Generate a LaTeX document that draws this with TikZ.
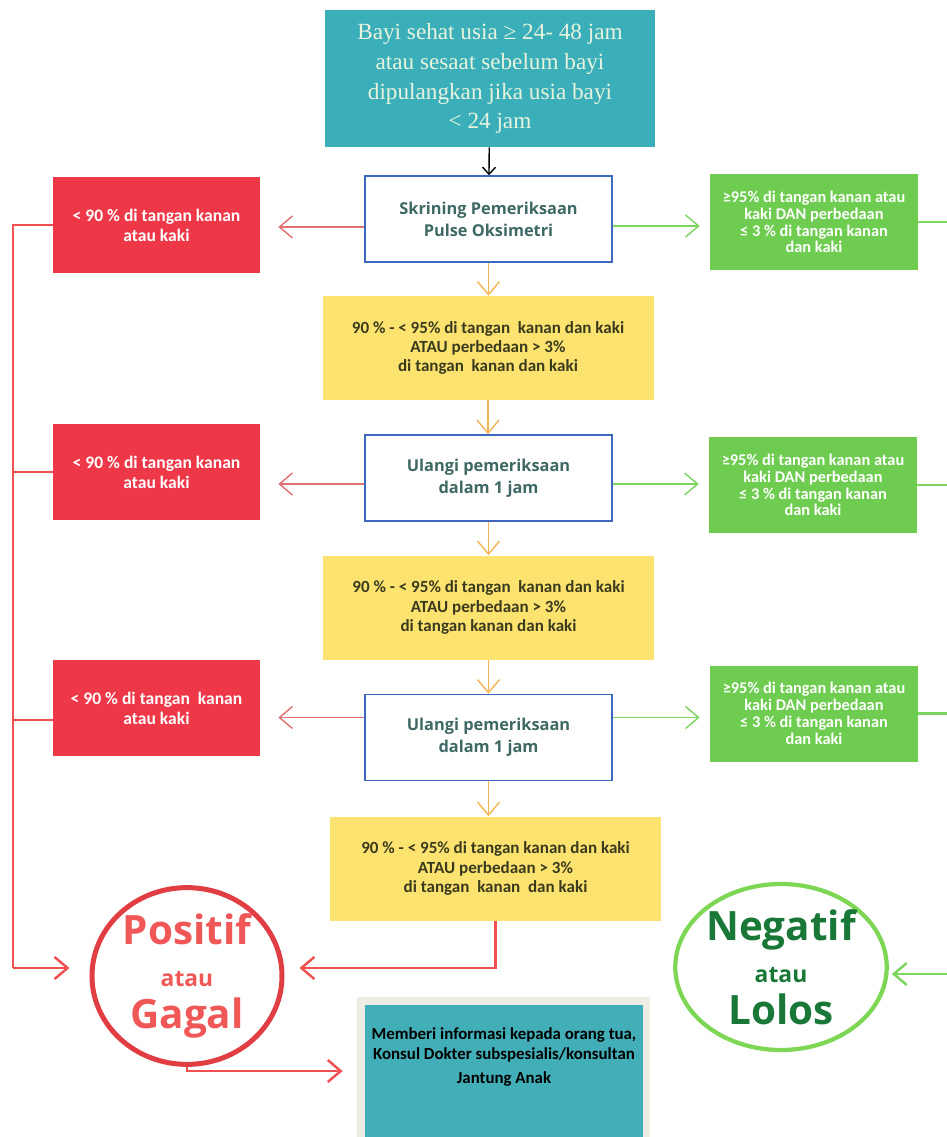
\documentclass[tikz,border=0pt]{standalone}
\usepackage{fontspec}
\setmainfont{Carlito}
\newfontfamily\serifface{Liberation Serif}
\newfontfamily\opensans{Open Sans}
\usepackage{tikz}
\usetikzlibrary{shapes.geometric,arrows.meta}
\definecolor{tealbox}{RGB}{58,175,185}
\definecolor{toptext}{RGB}{232,243,222}
\definecolor{checkblue}{RGB}{62,104,190}
\definecolor{checktext}{RGB}{62,104,100}
\definecolor{failred}{RGB}{238,56,72}
\definecolor{faillight}{RGB}{226,112,112}
\definecolor{railred}{RGB}{240,80,80}
\definecolor{passgreen}{RGB}{110,205,80}
\definecolor{passlight}{RGB}{125,212,95}
\definecolor{midyellow}{RGB}{252,226,110}
\definecolor{midtext}{RGB}{58,58,30}
\definecolor{midarrow}{RGB}{245,180,80}
\definecolor{gagalred}{RGB}{225,62,68}
\definecolor{gagaltext}{RGB}{240,88,88}
\definecolor{lolosgreen}{RGB}{125,215,85}
\definecolor{lolostext}{RGB}{25,120,55}
\definecolor{framebeige}{RGB}{238,236,228}
\definecolor{infoteal}{RGB}{66,174,184}

\begin{document}
\begin{tikzpicture}[x=0.2mm,y=-0.2mm,
  every node/.style={font=\bfseries\fontsize{10}{11.4}\selectfont,align=center,inner sep=0pt},
  topbox/.style={fill=tealbox,text=toptext,minimum width=66mm,minimum height=27.4mm,
    font=\serifface\fontsize{13.2}{17}\selectfont},
  checkbox/.style={draw=checkblue,line width=0.9pt,fill=white,text=checktext,
    minimum width=49.4mm,minimum height=17.2mm,font=\opensans\bfseries\fontsize{9.3}{12.5}\selectfont},
  failbox/.style={fill=failred,text=white,minimum width=41.4mm,minimum height=19.2mm},
  passbox/.style={fill=passgreen,text=white,minimum width=41.6mm,minimum height=19.2mm,
    font=\bfseries\fontsize{9.3}{9.6}\selectfont},
  midbox/.style={fill=midyellow,text=midtext,minimum width=66.2mm,minimum height=20.8mm,
    font=\bfseries\fontsize{9.7}{10.9}\selectfont},
  result/.style={ellipse,line width=1mm,font=\opensans\bfseries\fontsize{23}{24}\selectfont},
  infobox/.style={fill=infoteal,minimum width=55.6mm,minimum height=26.4mm},
  flowtip/.style={-{Straight Barb[length=2.6mm,width=4.4mm]}},
  blackflow/.style={-{Straight Barb[length=1.4mm,width=2.6mm]},line width=0.8pt},
  redflow/.style={flowtip,faillight,line width=0.8pt,shorten >=3.6mm},
  greenflow/.style={flowtip,passlight,line width=0.8pt,shorten >=2mm},
  yellowflow/.style={flowtip,midarrow,line width=0.8pt},
  redrail/.style={railred,line width=1.4pt},
  greenrail/.style={passlight,line width=1.4pt}]
\useasboundingbox (0,0) rectangle (947,1137);

% start and first screening
\node[topbox] (start) at (490,78.5) {Bayi sehat usia ≥ 24- 48 jam\\atau sesaat sebelum bayi\\dipulangkan jika usia bayi\\< 24 jam};
\node[checkbox] (screen) at (488.5,219) {Skrining Pemeriksaan\\Pulse Oksimetri};
\node[failbox] (fail1) at (156.5,225) {< 90 \% di tangan kanan\\atau kaki};
\node[passbox] (pass1) at (814,222) {≥95\% di tangan kanan atau\\kaki DAN perbedaan\\≤ 3 \% di tangan kanan\\dan kaki};
\node[midbox] (mid1) at (488,348) {90 \% - < 95\% di tangan\ \ kanan dan kaki\\ATAU perbedaan > 3\%\\di tangan\ \ kanan dan kaki};

% first repeat
\node[checkbox] (repeat1) at (488.5,478) {Ulangi pemeriksaan\\dalam 1 jam};
\node[failbox] (fail2) at (156.5,472) {< 90 \% di tangan kanan\\atau kaki};
\node[passbox] (pass2) at (813,485) {≥95\% di tangan kanan atau\\kaki DAN perbedaan\\≤ 3 \% di tangan kanan\\dan kaki};
\node[midbox] (mid2) at (488.5,607.5) {90 \% - < 95\% di tangan\ \ kanan dan kaki\\ATAU perbedaan > 3\%\\di tangan kanan dan kaki};

% second repeat
\node[checkbox] (repeat2) at (488.5,737.5) {Ulangi pemeriksaan\\dalam 1 jam};
\node[failbox] (fail3) at (156.5,708) {< 90 \% di tangan\ \ kanan\\atau kaki};
\node[passbox] (pass3) at (814,713.5) {≥95\% di tangan kanan atau\\kaki DAN perbedaan\\≤ 3 \% di tangan kanan\\dan kaki};
\node[midbox] (mid3) at (495.5,868.5) {90 \% - < 95\% di tangan kanan dan kaki\\ATAU perbedaan > 3\%\\di tangan\ \ kanan\ \ dan kaki};

% results
\node[result,draw=gagalred,text=gagaltext,minimum width=38mm,minimum height=32mm] (gagal) at (187,976)
  {Positif\\{\fontsize{13}{24}\selectfont atau}\\Gagal};
\node[result,draw=lolosgreen,text=lolostext,line width=0.85mm,minimum width=38.4mm,minimum height=33.2mm] (lolos) at (781,967)
  {Negatif\\{\fontsize{13}{24}\selectfont atau}\\Lolos};
\fill[framebeige] (357,997) rectangle (650,1137);
\node[infobox] (info) at (504,1071) {};
\node[text=black,font=\bfseries\fontsize{9.6}{11.4}\selectfont] (infotext) at (504,1057) {Memberi informasi kepada orang tua,\\Konsul Dokter subspesialis/konsultan\\[2pt]Jantung Anak};

\coordinate (railL) at (13,968);
\coordinate (railR) at (956,974);

% connectors
\draw[blackflow] (start) -- (screen);
\draw[yellowflow] (screen.south) -- (screen.south |- mid1.north);
\draw[yellowflow] (mid1.south) -- (mid1.south |- repeat1.north);
\draw[yellowflow] (repeat1.south) -- (repeat1.south |- mid2.north);
\draw[yellowflow] (mid2.south) -- (mid2.south |- repeat2.north);
\draw[yellowflow] (repeat2.south) -- (repeat2.south |- mid3.north);

\draw[redflow] ([yshift=-1.6mm]screen.west) -- ([yshift=-1.6mm]screen.west -| fail1.east);
\draw[redflow] ([yshift=-1.2mm]repeat1.west) -- ([yshift=-1.2mm]repeat1.west -| fail2.east);
\draw[redflow] ([yshift=4mm]repeat2.west) -- ([yshift=4mm]repeat2.west -| fail3.east);
\draw[greenflow] ([yshift=-1.4mm]screen.east) -- ([yshift=-1.4mm]screen.east -| pass1.west);
\draw[greenflow] ([yshift=-1.2mm]repeat1.east) -- ([yshift=-1.2mm]repeat1.east -| pass2.west);
\draw[greenflow] ([yshift=4mm]repeat2.east) -- ([yshift=4mm]repeat2.east -| pass3.west);

\draw[redrail] (fail1.west) -| (railL);
\draw[redrail] (fail2.west) -- (fail2.west -| railL);
\draw[redrail] ([yshift=-2.4mm]fail3.west) -- ([yshift=-2.4mm]fail3.west -| railL);
\draw[redrail,flowtip,shorten >=4mm] (railL) -- (railL -| gagal.west);
\draw[redrail,flowtip,shorten >=3mm] (mid3.south) |- (railL -| gagal.east);
\draw[redrail,flowtip,shorten >=4.4mm] (gagal.south) |- (info.west);

\draw[greenrail] (pass1.east) -| (railR);
\draw[greenrail] (pass2.east) -- (pass2.east -| railR);
\draw[greenrail] (pass3.east) -- (pass3.east -| railR);
\draw[greenrail,flowtip,shorten >=0.6mm] (railR) -- (railR -| lolos.east);
\end{tikzpicture}
\end{document}
